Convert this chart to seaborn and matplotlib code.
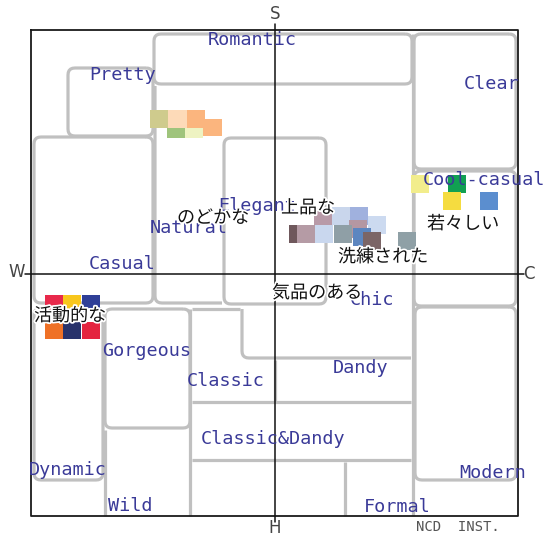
import matplotlib
matplotlib.use("Agg")
import numpy as np
import pandas as pd
import matplotlib.pyplot as plt
import seaborn as sns
import matplotlib.patheffects as pe

# ---------------- data ----------------
axis_names = ["S", "W", "C", "H"]
axis_x = [275, 17, 529, 275]
axis_y = [14, 272, 274, 528]

style_names = ["Romantic", "Pretty", "Clear", "Cool-casual", "Casual", "Natural",
               "Elegant", "Chic", "Gorgeous", "Classic", "Dandy", "Classic&Dandy",
               "Dynamic", "Modern", "Wild", "Formal"]
style_x = [252, 123, 492, 484, 122, 189, 257, 372, 147, 226, 361, 273, 68, 493, 130, 397]
style_y = [40, 75, 84, 180, 264, 228, 206, 300, 351, 381, 368, 439, 470, 473, 506, 507]

word_names = ["のどかな", "上品な", "洗練された", "若々しい", "気品のある", "活動的な"]
word_x = [213, 308, 383, 463, 317, 70]
word_y = [218, 208, 257, 224, 293, 316]

swatch_x = [176, 194, 212.5, 159.5, 177.5, 196,
            323, 341, 359, 377, 298, 306, 324, 358, 362, 343, 372, 407,
            420, 457, 452, 489,
            54, 72, 91, 54, 72, 91]
swatch_y = [129, 129, 127.5, 119, 119, 119,
            217, 216, 216, 225, 234, 234, 234, 229, 237, 234, 241, 241,
            184, 184, 201, 201,
            303.5, 303.5, 303.5, 330.5, 330.5, 330.5]
swatch_color = ["#9fc47c", "#eef3c2", "#fbb57e", "#cfcb8d", "#fddab8", "#fbb57e",
                "#b89aa8", "#c9d6ec", "#a0b1de", "#ccdaf0", "#6f585c", "#b59ba5", "#c9d7ee",
                "#b497a2", "#5c86c0", "#8f9fa6", "#7b6566", "#8fa0a6",
                "#f2ed8c", "#11a052", "#f5dc40", "#5b8ecf",
                "#e8294b", "#f8c61c", "#2f3f97", "#ef7126", "#28326b", "#e4243f"]

# zone outlines (image-scale coordinates of the chart)
zones = [
    [(154, 34), (412, 34), (412, 84), (154, 84)],            # Romantic
    [(68, 68), (153, 68), (153, 136), (68, 136)],            # Pretty
    [(414, 34), (516, 34), (516, 169), (414, 169)],          # Clear
    [(414, 171), (516, 171), (516, 306), (414, 306)],        # Cool-casual
    [(34, 137), (153, 137), (153, 303), (34, 303)],          # Casual
    [(224, 138), (326, 138), (326, 304), (224, 304)],        # Elegant
    [(155, 86), (155, 303), (222, 303)],                     # Natural
    [(413, 34), (413, 516)],                                 # divider
    [(242, 309), (242, 358), (411, 358)],                    # Chic bottom
    [(34, 308), (103, 308), (103, 480), (34, 480)],          # Dynamic
    [(105, 309), (190, 309), (190, 428), (105, 428)],        # Gorgeous
    [(105, 430), (105, 516)],                                # Wild
    [(192, 309), (240, 309)],                                # Classic top
    [(190, 309), (190, 516)],
    [(275, 360), (275, 402)],                                # Classic / Dandy
    [(192, 402), (411, 402)],                                # Classic&Dandy top
    [(192, 460), (411, 460)],                                # Classic&Dandy bottom
    [(345, 462), (345, 516)],                                # Formal
    [(415, 307), (516, 307), (516, 480), (415, 480)],        # Modern
]
closed = [True, True, True, True, True, True, False, False, False, True, True,
          False, False, False, False, False, False, False, True]


def rounded(points, r=7, close=False, n=6):
    pts = [np.array(p, float) for p in points]
    if close:
        pts = pts + [pts[0], pts[1]]
    out = [pts[0]] if not close else []
    for i in range(1, len(pts) - 1):
        p0, p1, p2 = pts[i - 1], pts[i], pts[i + 1]
        d1 = p0 - p1
        d2 = p2 - p1
        l1, l2 = np.linalg.norm(d1), np.linalg.norm(d2)
        rr = min(r, l1 / 2, l2 / 2)
        a = p1 + d1 / l1 * rr
        b = p1 + d2 / l2 * rr
        for t in np.linspace(0, 1, n):
            out.append((1 - t) ** 2 * a + 2 * (1 - t) * t * p1 + t ** 2 * b)
    if close:
        out.append(out[0])
    else:
        out.append(pts[-1])
    out = np.array(out)
    return out[:, 0], out[:, 1]


sns.set_theme(style="white")
plt.rcParams["font.family"] = ["Noto Sans CJK JP", "DejaVu Sans"]

fig = plt.figure(figsize=(5.49, 5.38), dpi=100)
ax = fig.add_axes([0, 0, 1, 1])
ax.set_xlim(0, 549)
ax.set_ylim(538, 0)
ax.axis("off")

grey = "#c0c0c0"
for pts, c in zip(zones, closed):
    xs, ys = rounded(pts, close=c)
    ax.plot(xs, ys, color=grey, lw=2.3, solid_capstyle="butt", zorder=1)

# frame and axes
ax.plot([31, 518, 518, 31, 31], [30, 30, 516, 516, 30], color="#1a1a1a", lw=1.3, zorder=3)
ax.plot([275, 275], [24, 522], color="#111111", lw=1.1, zorder=3)
ax.plot([25, 524], [274, 274], color="#111111", lw=1.1, zorder=3)

# colour swatches
df = pd.DataFrame({"x": swatch_x, "y": swatch_y, "c": swatch_color})
df["id"] = range(len(df))
marker = [(-0.5, -0.46), (0.5, -0.46), (0.5, 0.46), (-0.5, 0.46)]
sns.scatterplot(data=df, x="x", y="y", hue="id",
                palette=dict(zip(df["id"], df["c"])), marker=marker,
                s=178, linewidth=0, edgecolor="none", legend=False, ax=ax, zorder=4)
ax.set_xlim(0, 549)
ax.set_ylim(538, 0)
ax.axis("off")

for t, x, y in zip(style_names, style_x, style_y):
    ax.text(x, y, t, ha="center", va="center", fontsize=13.3,
            family="DejaVu Sans Mono", color="#3a3a98", zorder=5)

for t, x, y in zip(word_names, word_x, word_y):
    txt = ax.text(x, y, t, ha="center", va="center", fontsize=13,
                  family=["Noto Sans CJK JP", "DejaVu Sans"], color="#111111", zorder=6)
    txt.set_path_effects([pe.withStroke(linewidth=2.5, foreground="white")])

for t, x, y in zip(axis_names, axis_x, axis_y):
    ax.text(x, y, t, ha="center", va="center", fontsize=12,
            family="DejaVu Sans", color="#444444", zorder=5)

ax.text(458, 527, "NCD  INST.", ha="center", va="center", fontsize=10,
        family="DejaVu Sans Mono", color="#555555", zorder=5)

fig.savefig("out.png", dpi=100)
